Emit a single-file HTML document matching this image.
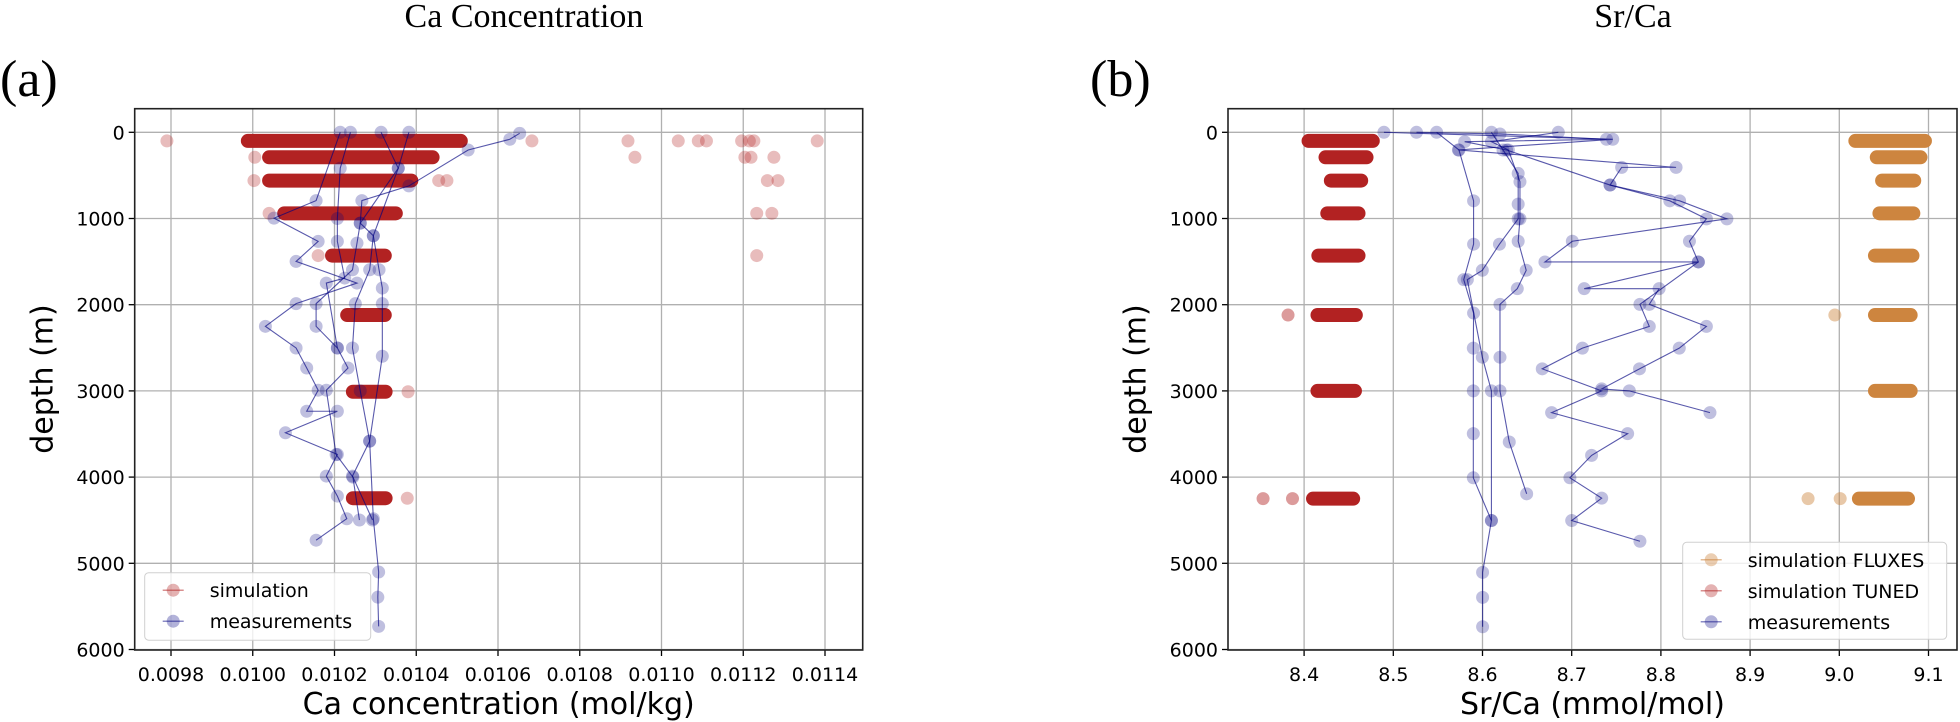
<!DOCTYPE html>
<html><head><meta charset="utf-8"><style>
body{margin:0;background:#fff}
svg{display:block}
text{font-family:"DejaVu Sans","Liberation Sans",sans-serif;fill:#000}
.serif{font-family:"Liberation Serif",serif}
</style></head><body>
<svg id="fig" width="1960" height="722" viewBox="0 0 1960 722" xmlns="http://www.w3.org/2000/svg">
<rect width="1960" height="722" fill="#fff"/>
<g id="gL"></g>
<g id="gR"></g>
<text class="serif" x="524" y="27" font-size="34" text-anchor="middle">Ca Concentration</text>
<text class="serif" x="1633" y="27" font-size="34" text-anchor="middle">Sr/Ca</text>
<text class="serif" x="0" y="96" font-size="52">(a)</text>
<text class="serif" x="1090" y="96" font-size="52">(b)</text>
</svg>
<script>
// ---------- data: panel (a) ----------
const caXTicks = [0.0098,0.0100,0.0102,0.0104,0.0106,0.0108,0.0110,0.0112,0.0114];
const caXTickLabels = ["0.0098","0.0100","0.0102","0.0104","0.0106","0.0108","0.0110","0.0112","0.0114"];
const depthTicks = [0,1000,2000,3000,4000,5000,6000];
const depthTickLabels = ["0","1000","2000","3000","4000","5000","6000"];
const caSimDepth = [100,290,560,940,1430,2120,3010,4245];
const caSimMin = [0.009988,0.010040,0.010040,0.010077,0.010194,0.010231,0.010245,0.010245];
const caSimMax = [0.010509,0.010440,0.010388,0.010350,0.010323,0.010323,0.010325,0.010325];
const caOutVal = [0.00979,0.010683,0.010918,0.011041,0.01109,0.01111,0.011196,0.011215,0.011226,0.011381,0.010005,0.010935,0.011204,0.011219,0.011275,0.010003,0.010455,0.010475,0.011259,0.011285,0.01004,0.011233,0.01127,0.01016,0.011233,0.01038,0.010378];
const caOutDepth = [100,100,100,100,100,100,100,100,100,100,290,290,290,290,290,560,560,560,560,560,940,940,940,1430,1430,3010,4245];
const caMeasA = [[0.010314,0],[0.010356,417],[0.010295,1200],[0.010309,1595],[0.010317,1807],[0.010317,1988],[0.010317,2598],[0.010286,3583],[0.010295,4483],[0.010308,5101],[0.010306,5393],[0.010308,5732]];
const caMeasB = [[0.010214,0],[0.010155,792],[0.010052,996],[0.010160,1266],[0.010106,1498],[0.010255,1749],[0.010106,1988],[0.010031,2251],[0.010106,2502],[0.010132,2734],[0.010160,2992],[0.010132,3236],[0.010207,3236],[0.010080,3486],[0.010207,3737],[0.010180,3988],[0.010207,4220],[0.010230,4483],[0.010155,4732]];
const caMeasC = [[0.010239,0],[0.010214,417],[0.010207,1000],[0.010207,1266],[0.010225,1691],[0.010180,1749],[0.010207,2502],[0.010233,2734],[0.010180,2992],[0.010204,3739],[0.010245,4000],[0.010261,4498]];
const caMeasD = [[0.010653,12],[0.010629,81],[0.010527,205],[0.010382,622],[0.010267,792],[0.010263,1054],[0.010255,1286],[0.010244,1595],[0.010155,1988],[0.010155,2251],[0.010207,2502]];
const caMeasE = [[0.010382,0],[0.010356,417],[0.010263,1054],[0.010295,1200],[0.010286,1595],[0.010251,1988],[0.010244,2502],[0.010263,3000],[0.010286,3583],[0.010244,3988],[0.010293,4498]];
// ---------- data: panel (b) ----------
const srXTicks = [8.4,8.5,8.6,8.7,8.8,8.9,9.0,9.1];
const srXTickLabels = ["8.4","8.5","8.6","8.7","8.8","8.9","9.0","9.1"];
const srSimDepth = [100,290,560,940,1430,2120,3000,4250];
const tunedMin = [8.405,8.424,8.430,8.426,8.416,8.415,8.415,8.410];
const tunedMax = [8.477,8.470,8.464,8.461,8.461,8.458,8.457,8.455];
const fluxMin = [9.018,9.042,9.048,9.045,9.040,9.040,9.040,9.022];
const fluxMax = [9.096,9.091,9.084,9.083,9.082,9.080,9.080,9.077];
const tunedOutVal = [8.382,8.354,8.387];
const tunedOutDepth = [2120,4250,4250];
const fluxOutVal = [8.995,8.965,9.001];
const fluxOutDepth = [2120,4250,4250];
const srMeas1 = [[8.4895,0],[8.746,81],[8.573,205],[8.817,407],[8.756,407],[8.743,612],[8.821,795],[8.874,1004],[8.7007,1264],[8.670,1504],[8.842,1504],[8.714,1814],[8.798,1814],[8.787,1996],[8.851,2252],[8.8206,2504],[8.776,2744],[8.7336,2977],[8.7646,3000],[8.855,3252]];
const srMeas2 = [[8.526,0],[8.6196,19],[8.739,81],[8.580,109],[8.627,205],[8.743,612],[8.810,795],[8.851,1004],[8.832,1264],[8.842,1504],[8.7765,1996],[8.787,2252],[8.712,2504],[8.667,2744],[8.7336,3000],[8.6775,3252],[8.7627,3496],[8.7223,3748],[8.698,4008],[8.7336,4244],[8.700,4504],[8.7765,4744]];
const srMeas3 = [[8.5486,0],[8.5736,205],[8.590,795],[8.590,1298],[8.579,1709],[8.590,2097],[8.5897,2504],[8.5897,3000],[8.5897,3496],[8.5897,4008],[8.610,4504],[8.6001,5105],[8.6001,5395],[8.6001,5736]];
const srMeas4 = [[8.610,0],[8.623,205],[8.640,477],[8.640,833],[8.640,1004],[8.619,1298],[8.5998,1601],[8.583,1709],[8.5998,2609],[8.610,3000],[8.610,4504]];
const srMeas5 = [[8.685,0],[8.610,109],[8.629,205],[8.642,574],[8.642,1004],[8.640,1264],[8.649,1601],[8.639,1814],[8.6196,1996],[8.6196,2609],[8.6196,3000],[8.630,3593],[8.6495,4194]];

const NS="http://www.w3.org/2000/svg";
function mk(tag,attrs,parent){const e=document.createElementNS(NS,tag);for(const k in attrs)e.setAttribute(k,attrs[k]);parent.appendChild(e);return e;}
const yD = d => 132.3 + d*0.0862;
const xCa = v => 171 + (v-0.0098)/0.0002*81.75;
const xSr = v => 1393.3 + (v-8.5)*892;

function axes(g,L,R,xTicks,xLabels,xs,xlab,ylabX){
  const T=108.7,B=650;
  for(let i=0;i<xTicks.length;i++){const x=xs(xTicks[i]);
    const gl=mk('line',{x1:x,x2:x,y1:T,y2:B,stroke:'#b0b0b0','stroke-width':1.3},g);
    
    mk('line',{x1:x,x2:x,y1:B,y2:B+6,stroke:'#000','stroke-width':1.3},g);
    const t=mk('text',{x:x,y:681,'font-size':19,'text-anchor':'middle'},g);t.textContent=xLabels[i];
    }
  for(let i=0;i<depthTicks.length;i++){const y=yD(depthTicks[i]);
    const gl=mk('line',{x1:L,x2:R,y1:y,y2:y,stroke:'#b0b0b0','stroke-width':1.3},g);
    
    mk('line',{x1:L-6,x2:L,y1:y,y2:y,stroke:'#000','stroke-width':1.3},g);
    const t=mk('text',{x:L-10,y:y+7,'font-size':19,'text-anchor':'end'},g);t.textContent=depthTickLabels[i];
    }
  const xl=mk('text',{x:(L+R)/2,y:714,'font-size':30,'text-anchor':'middle'},g);xl.textContent=xlab;
  
  const yl=mk('text',{x:ylabX,y:379,'font-size':30,'text-anchor':'middle',transform:`rotate(-90 ${ylabX} 379)`,'dominant-baseline':'middle'},g);yl.textContent='depth (m)';
  
}
function frame(g,L,R){const f=mk('rect',{x:L,y:108.7,width:R-L,height:650-108.7,fill:'none',stroke:'#222','stroke-width':1.6},g);
  }
function bands(g,xs,depths,mins,maxs,color,name){
  for(let i=0;i<depths.length;i++){const y=yD(depths[i]);
    const l=mk('line',{x1:xs(mins[i]),x2:xs(maxs[i]),y1:y,y2:y,stroke:color,'stroke-width':14,'stroke-linecap':'round',opacity:1},g);
    }}
function dots(g,xs,vals,deps,color,op,name){
  for(let i=0;i<vals.length;i++){const c=mk('circle',{cx:xs(vals[i]),cy:yD(deps[i]),r:6.5,fill:color,opacity:op},g);
    }}
function profile(g,xs,pts){
  const p=mk('polyline',{points:pts.map(q=>xs(q[0])+','+yD(q[1])).join(' '),fill:'none',stroke:'#000080','stroke-width':1.1,opacity:0.65},g);
  
  for(const q of pts){const c=mk('circle',{cx:xs(q[0]),cy:yD(q[1]),r:6.5,fill:'#000080',opacity:0.25},g);
    }}
function legend(g,x,y,w,h,entries){
  const r=mk('rect',{x:x,y:y,width:w,height:h,rx:4,fill:'#fff','fill-opacity':0.8,stroke:'#d0d0d0'},g);
  
  entries.forEach((e,i)=>{const ey=y+17.5+i*31;
    mk('line',{x1:x+18,x2:x+39,y1:ey,y2:ey,stroke:e[1],'stroke-width':1.5,opacity:e[2]+0.15},g);
    mk('circle',{cx:x+28.5,cy:ey,r:6.5,fill:e[1],opacity:e[2]},g);
    const t=mk('text',{x:x+65,y:ey+7,'font-size':19},g);t.textContent=e[0];
    });}

// Panel a
const gL=document.getElementById('gL');
axes(gL,134.7,862.7,caXTicks,caXTickLabels,xCa,'Ca concentration (mol/kg)',44);
bands(gL,xCa,caSimDepth,caSimMin,caSimMax,'#b22222','simulation-band');
dots(gL,xCa,caOutVal,caOutDepth,'#b22222',0.3,'simulation-point');
[caMeasA,caMeasB,caMeasC,caMeasD,caMeasE].forEach(p=>profile(gL,xCa,p));
frame(gL,134.7,862.7);
legend(gL,144.7,572.7,226,67.5,[['simulation','#b22222',0.35],['measurements','#000080',0.3]]);

// Panel b
const gR=document.getElementById('gR');
axes(gR,1228,1957,srXTicks,srXTickLabels,xSr,'Sr/Ca (mmol/mol)',1137);
bands(gR,xSr,srSimDepth,tunedMin,tunedMax,'#b22222','tuned-band');
bands(gR,xSr,srSimDepth,fluxMin,fluxMax,'#cd853f','fluxes-band');
dots(gR,xSr,tunedOutVal,tunedOutDepth,'#b22222',0.45,'tuned-point');
dots(gR,xSr,fluxOutVal,fluxOutDepth,'#cd853f',0.45,'fluxes-point');
[srMeas1,srMeas2,srMeas3,srMeas4,srMeas5].forEach(p=>profile(gR,xSr,p));
frame(gR,1228,1957);
legend(gR,1682.7,542.3,264,97,[['simulation FLUXES','#cd853f',0.4],['simulation TUNED','#b22222',0.35],['measurements','#000080',0.3]]);
</script>
</body></html>
